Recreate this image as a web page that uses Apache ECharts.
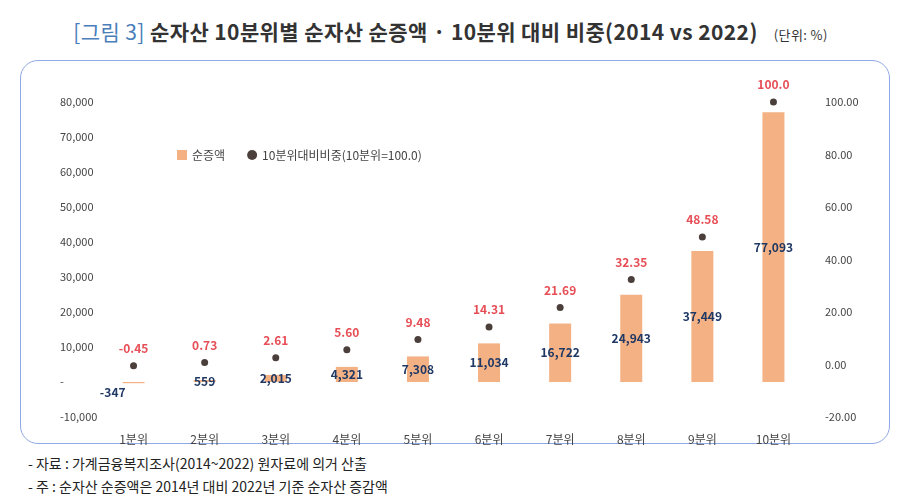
<!DOCTYPE html>
<html>
<head>
<meta charset="utf-8">
<script src="https://cdn.jsdelivr.net/npm/echarts@6/dist/echarts.min.js"></script>
<style>
body{margin:0;background:#fff;font-family:"Noto Sans CJK KR","Noto Sans",sans-serif;}
#title{position:absolute;left:0;top:16px;width:901px;text-align:center;font-size:21px;font-weight:bold;color:#333;letter-spacing:0.4px;}
#title .tag{color:#4a7ebb;font-weight:normal;}
#title .unit{font-size:13px;font-weight:normal;margin-left:16px;}
#box{position:absolute;left:20px;top:60px;width:868px;height:382px;border:1.5px solid #8fa8e6;border-radius:18px;}
#chart{position:absolute;left:0;top:60px;width:901px;height:385px;}
#notes{position:absolute;left:28px;top:452px;font-size:14px;color:#222;line-height:23px;}
</style>
</head>
<body>
<div id="title"><span class="tag">[그림 3]</span> 순자산 10분위별 순자산 순증액 · 10분위 대비 비중(2014 vs 2022)<span class="unit">(단위: %)</span></div>
<div id="box"></div>
<div id="chart"></div>
<div id="notes">- 자료 : 가계금융복지조사(2014~2022) 원자료에 의거 산출<br>- 주 : 순자산 순증액은 2014년 대비 2022년 기준 순자산 증감액</div>
<script>
var categories = ['1분위','2분위','3분위','4분위','5분위','6분위','7분위','8분위','9분위','10분위'];
var netIncrease = [-347, 559, 2015, 4321, 7308, 11034, 16722, 24943, 37449, 77093];
var ratio = [-0.45, 0.73, 2.61, 5.60, 9.48, 14.31, 21.69, 32.35, 48.58, 100.0];
var ratioLabels = ['-0.45','0.73','2.61','5.60','9.48','14.31','21.69','32.35','48.58','100.0'];

var myChart = echarts.init(document.getElementById('chart'));
var font = '"Noto Sans CJK KR","Noto Sans",sans-serif';

var option = {
    textStyle: {fontFamily: font},
    legend: {
        left: 172, top: 84, itemGap: 22, itemWidth: 10, itemHeight: 10,
        textStyle: {fontSize: 12, color: '#444'},
        data: [{name: '순증액', icon: 'rect'}, {name: '10분위대비비중(10분위=100.0)', icon: 'circle'}]
    },
    grid: {left: 98, right: 92, top: 42, bottom: 22},
    xAxis: {
        type: 'category', data: categories,
        axisLine: {show: true, onZero: true, onZeroAxisIndex: 0, lineStyle: {color: 'rgba(0,0,0,0)'}},
        axisTick: {show: false},
        axisLabel: {color: '#444', fontSize: 12, margin: 16}
    },
    yAxis: [
        {
            type: 'value', min: -10000, max: 80000, interval: 10000,
            splitLine: {show: false}, axisLine: {show: false}, axisTick: {show: false},
            axisLabel: {color: '#444', fontSize: 11, margin: 38, align: 'left',
                formatter: function (v) { return v === 0 ? '-' : v.toLocaleString('en-US'); }}
        },
        {
            type: 'value', min: -20, max: 100, interval: 20,
            splitLine: {show: false}, axisLine: {show: false}, axisTick: {show: false},
            axisLabel: {color: '#444', fontSize: 11, margin: 16,
                formatter: function (v) { return v.toFixed(2); }}
        }
    ],
    series: [
        {
            name: '순증액', type: 'bar', barWidth: 22,
            itemStyle: {color: '#f4b183'},
            data: netIncrease.map(function (v, i) {
                return i === 0
                    ? {value: v, label: {position: 'left', offset: [8, 10]}}
                    : {value: v};
            }),
            label: {
                show: true, position: 'inside', color: '#1f3864', fontSize: 12, fontWeight: 'bold',
                formatter: function (p) { return p.value.toLocaleString('en-US'); }
            }
        },
        {
            name: '10분위대비비중(10분위=100.0)', type: 'scatter', yAxisIndex: 1,
            symbolSize: 7, itemStyle: {color: '#1e0f0a'},
            data: ratio,
            label: {
                show: true, position: 'top', distance: 8, color: '#e0202a', fontSize: 12, fontWeight: 'bold',
                formatter: function (p) { return ratioLabels[p.dataIndex]; }
            }
        }
    ]
};
myChart.setOption(option);
</script>
</body>
</html>
